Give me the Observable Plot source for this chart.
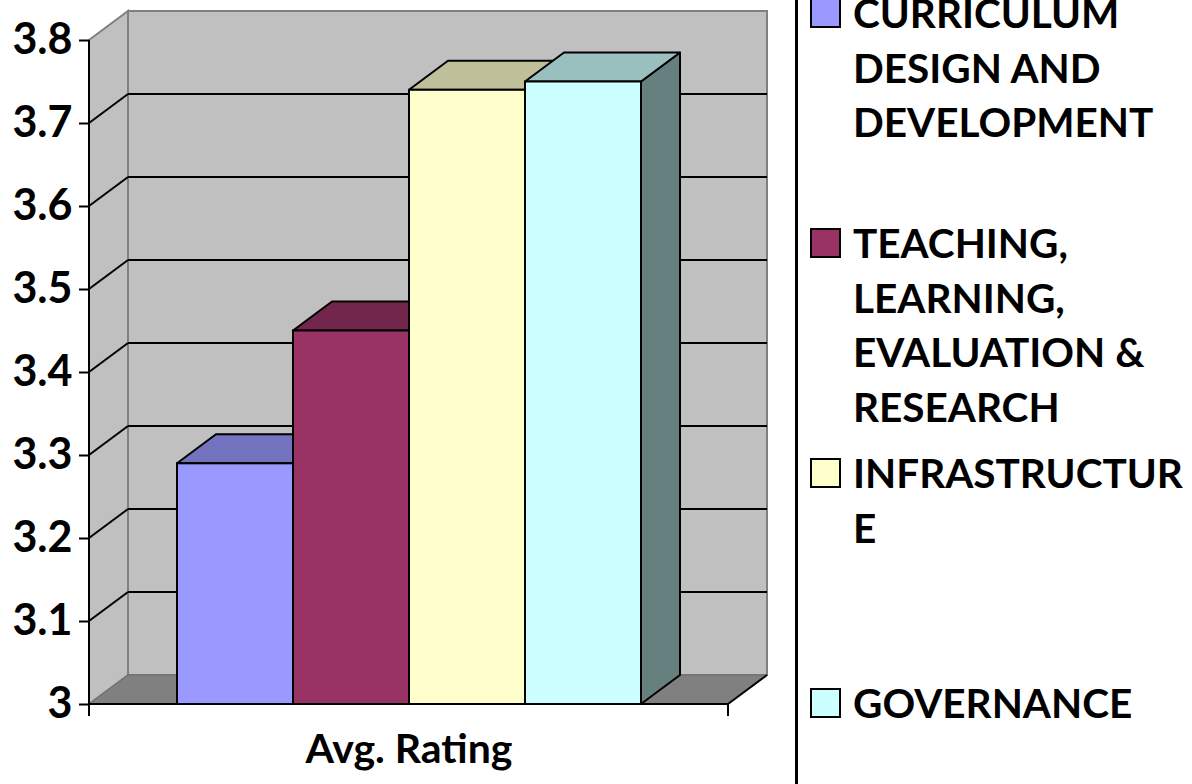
<!DOCTYPE html>
<html>
<head>
<meta charset="utf-8">
<script src="https://cdn.jsdelivr.net/npm/d3@7"></script>
<script src="https://cdn.jsdelivr.net/npm/@observablehq/plot@0.6"></script>
<style>
  html, body { margin: 0; padding: 0; background: #fff; }
  #wrap { position: relative; width: 1192px; height: 784px; overflow: hidden; font-family: Lato, "Open Sans", sans-serif; }
  #chart { position: absolute; left: 0; top: 0; }
  #divider { position: absolute; left: 795px; top: 0; width: 3px; height: 784px; background: #000; }
  .item { position: absolute; left: 810px; }
  .sw { position: absolute; left: 0; width: 31px; height: 30px; box-sizing: border-box; border: 2px solid #000; }
  .lab { position: absolute; left: 43px; width: 332px; font-weight: bold; font-size: 40.5px; line-height: 54.5px; color: #000; overflow-wrap: anywhere; white-space: normal; }
</style>
</head>
<body>
<div id="wrap">
  <div id="chart"></div>
  <div id="divider"></div>
  <div id="legend"></div>
</div>
<script>
// ---- data ----
const categories = [
  "CURRICULUM DESIGN AND DEVELOPMENT",
  "TEACHING, LEARNING, EVALUATION & RESEARCH",
  "INFRASTRUCTURE",
  "GOVERNANCE"
];
const avgRating = [3.29, 3.45, 3.74, 3.75];
const frontColors = ["#9999FF", "#993366", "#FFFFCC", "#CCFFFF"];
const topColors = ["#7373BF", "#73264C", "#BFBF99", "#99BFBF"];
const sideColors = ["#4D4D80", "#4D1A33", "#808066", "#668080"];
const yTicks = [3, 3.1, 3.2, 3.3, 3.4, 3.5, 3.6, 3.7, 3.8];
const xLabel = "Avg. Rating";

const rows = categories.map((c, i) => ({category: c, value: avgRating[i], front: frontColors[i], top: topColors[i], side: sideColors[i]}));

// 3D depth offset (pixels)
const DX = 39, DY = -29;

function pts(a) { return a.map(p => p.join(",")).join(" "); }

function bandOf(x) {
  if (typeof x.bandwidth === "function") return x.bandwidth();
  if (typeof x.bandwidth === "number") return x.bandwidth;
  return x(categories[1]) - x(categories[0]);
}

function backdrop(index, scales, values, dim) {
  const y = scales.y;
  const L = dim.marginLeft, R = dim.width - dim.marginRight;
  const T = y(yTicks[yTicks.length - 1]), B = y(yTicks[0]);
  const g = d3.create("svg:g");
  // side wall
  g.append("polygon").attr("points", pts([[L, T], [L + DX, T + DY], [L + DX, B + DY], [L, B]]))
    .attr("fill", "#C0C0C0").attr("stroke", "#808080").attr("stroke-width", 2);
  // back wall
  g.append("rect").attr("x", L + DX).attr("y", T + DY).attr("width", R - L).attr("height", B - T)
    .attr("fill", "#C0C0C0").attr("stroke", "#808080").attr("stroke-width", 2);
  // floor
  g.append("polygon").attr("points", pts([[L, B], [L + DX, B + DY], [R + DX, B + DY], [R, B]]))
    .attr("fill", "#808080").attr("stroke", "#6a6a6a").attr("stroke-width", 1);
  g.append("line").attr("x1", R).attr("y1", B).attr("x2", R + DX).attr("y2", B + DY)
    .attr("stroke", "#000").attr("stroke-width", 2);
  // gridlines
  for (const t of yTicks.slice(1, -1)) {
    const yy = y(t);
    g.append("line").attr("x1", L).attr("y1", yy).attr("x2", L + DX).attr("y2", yy + DY)
      .attr("stroke", "#000").attr("stroke-width", 2);
    g.append("line").attr("x1", L + DX).attr("y1", yy + DY).attr("x2", R + DX).attr("y2", yy + DY)
      .attr("stroke", "#000").attr("stroke-width", 2);
  }
  return g.node();
}

function bar3d(index, scales, values, dim) {
  const {x, y} = scales;
  const bw = bandOf(x);
  const g = d3.create("svg:g");
  const y0 = y(yTicks[0]);
  for (const r of rows) {
    const x0 = x(r.category), x1 = x0 + bw, yt = y(r.value);
    g.append("polygon").attr("points", pts([[x1, yt], [x1 + DX, yt + DY], [x1 + DX, y0 + DY], [x1, y0]]))
      .attr("fill", r.side).attr("stroke", "#000").attr("stroke-width", 2).attr("stroke-linejoin", "round");
    g.append("polygon").attr("points", pts([[x0, yt], [x0 + DX, yt + DY], [x1 + DX, yt + DY], [x1, yt]]))
      .attr("fill", r.top).attr("stroke", "#000").attr("stroke-width", 2).attr("stroke-linejoin", "round");
  }
  return g.node();
}

function frontAxis(index, scales, values, dim) {
  const y = scales.y;
  const L = dim.marginLeft, R = dim.width - dim.marginRight;
  const T = y(yTicks[yTicks.length - 1]), B = y(yTicks[0]);
  const g = d3.create("svg:g").attr("stroke", "#000").attr("stroke-width", 2);
  g.append("line").attr("x1", L).attr("y1", T).attr("x2", L).attr("y2", B + 12);
  g.append("line").attr("x1", L).attr("y1", B).attr("x2", R).attr("y2", B);
  g.append("line").attr("x1", R).attr("y1", B).attr("x2", R).attr("y2", B + 12);
  return g.node();
}

const chart = Plot.plot({
  width: 796,
  height: 784,
  marginLeft: 89,
  marginRight: 68,
  marginTop: 40,
  marginBottom: 80,
  style: {fontFamily: "Lato, 'Open Sans', sans-serif", background: "transparent", overflow: "visible"},
  x: {domain: categories, paddingInner: 0, paddingOuter: 0.75, axis: null},
  y: {domain: [yTicks[0], yTicks[yTicks.length - 1]], axis: null},
  marks: [
    backdrop,
    bar3d,
    Plot.barY(rows, {x: "category", y1: yTicks[0], y2: "value", fill: "front", stroke: "#000", strokeWidth: 2, inset: 0}),
    frontAxis,
    Plot.axisY(yTicks, {label: null, tickSize: 10, tickPadding: 7, strokeWidth: 2, stroke: "#000", fill: "#000",
      tickFormat: d => String(+d.toFixed(1)), fontSize: 43, fontWeight: "bold"}),
    Plot.text([xLabel], {frameAnchor: "bottom", dy: 58, lineAnchor: "bottom", fontSize: 41, fontWeight: "bold", fill: "#000"})
  ]
});
document.getElementById("chart").appendChild(chart);

// legend
const legend = document.getElementById("legend");
const itemTops = [0, 230, 460, 690];
categories.forEach((c, i) => {
  const it = document.createElement("div");
  it.className = "item";
  it.style.top = itemTops[i] + "px";
  const sw = document.createElement("div");
  sw.className = "sw";
  sw.style.top = "-2px";
  sw.style.background = frontColors[i];
  const lab = document.createElement("div");
  lab.className = "lab";
  lab.style.top = "-14px";
  lab.textContent = c;
  it.appendChild(sw);
  it.appendChild(lab);
  legend.appendChild(it);
});
</script>
</body>
</html>
